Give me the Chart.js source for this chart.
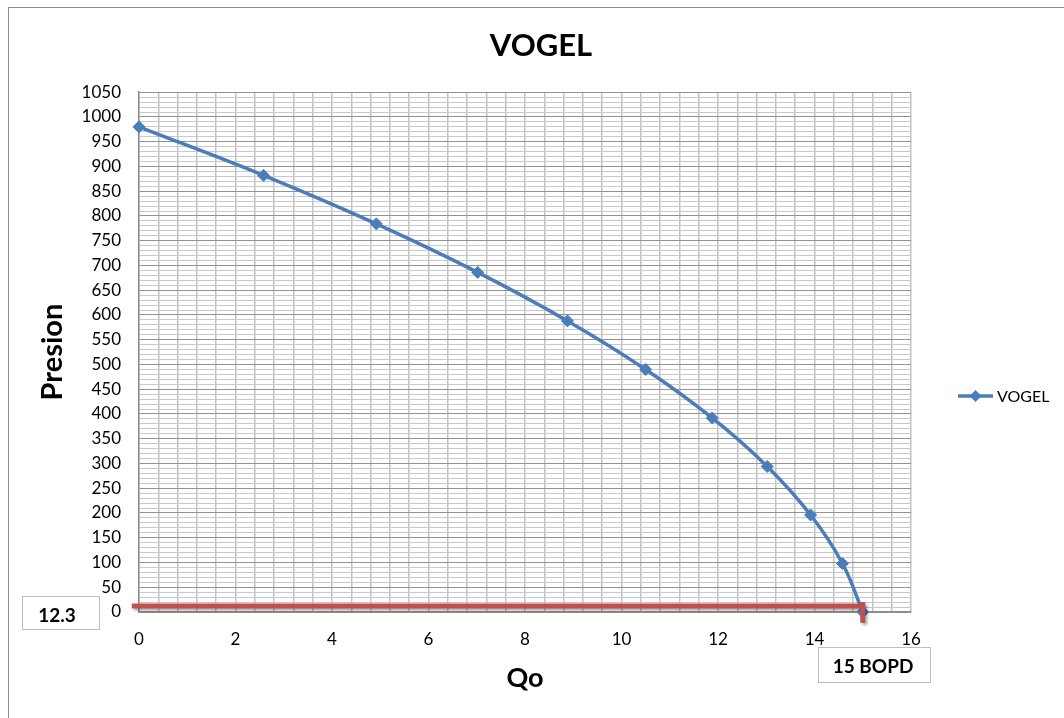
<!DOCTYPE html>
<html>
<head>
<meta charset="utf-8">
<title>VOGEL</title>
<script src="https://cdn.jsdelivr.net/npm/chart.js@4.4.1/dist/chart.umd.min.js"></script>
<style>
  html, body { margin: 0; padding: 0; background: #fff; }
  canvas { display: block; }
</style>
</head>
<body>
<canvas id="vogelChart" width="1064" height="718"></canvas>
<script>
// Curva IPR de Vogel: caudal Qo (BOPD) contra presion de fondo fluyente
const qo = [0, 2.58, 4.92, 7.02, 8.88, 10.5, 11.88, 13.02, 13.92, 14.58, 15];
const presion = [980, 882, 784, 686, 588, 490, 392, 294, 196, 98, 0];

// Lectura marcada sobre la curva
const presionLeida = 12.3;
const qoMax = 15;
const etiquetaPresion = '12.3';
const etiquetaQo = '15 BOPD';

const azul = '#4a7ebb';
const rojo = '#c0504d';
const fuente = 'Lato';

const esMultiplo = (v, m) => Math.abs(v / m - Math.round(v / m)) < 1e-6;

// Borde, flecha roja, recuadros de texto y leyenda
const extras = {
  id: 'extras',
  beforeDraw(chart) {
    const c = chart.ctx;
    c.save();
    c.fillStyle = '#fff';
    c.fillRect(0, 0, chart.width, chart.height);
    c.strokeStyle = '#8c8c8c';
    c.lineWidth = 1;
    c.strokeRect(8.5, 7.5, chart.width + 20, chart.height + 20);
    c.restore();
  },
  afterDatasetsDraw(chart) {
    const c = chart.ctx;
    const x = chart.scales.x, y = chart.scales.y;
    const py = y.getPixelForValue(presionLeida);
    const px = x.getPixelForValue(qoMax);
    c.save();
    c.strokeStyle = rojo;
    c.lineWidth = 5;
    c.lineCap = 'butt';
    c.shadowColor = 'rgba(0,0,0,0.35)';
    c.shadowBlur = 3;
    c.shadowOffsetX = 2;
    c.shadowOffsetY = 2;
    c.beginPath();
    c.moveTo(x.getPixelForValue(-0.15), py);
    c.lineTo(px, py);
    c.stroke();
    c.beginPath();
    c.moveTo(px, y.getPixelForValue(20));
    c.lineTo(px, y.getPixelForValue(-22));
    c.stroke();
    c.restore();
  },
  afterDraw(chart) {
    const c = chart.ctx;
    c.save();
    const caja = (x0, y0, w, h, txt, tx, ty) => {
      c.fillStyle = '#fff';
      c.fillRect(x0, y0, w, h);
      c.strokeStyle = '#bfbfbf';
      c.lineWidth = 1;
      c.strokeRect(x0 + 0.5, y0 + 0.5, w, h);
      c.fillStyle = '#000';
      c.font = 'bold 19px ' + fuente;
      c.textAlign = 'center';
      c.textBaseline = 'middle';
      c.fillText(txt, tx, ty);
    };
    caja(22, 596, 77, 33, etiquetaPresion, 57, 616);
    caja(818, 647, 112, 35, etiquetaQo, 873, 667);

    // leyenda
    const ly = 396;
    c.strokeStyle = azul;
    c.lineWidth = 3.5;
    c.beginPath();
    c.moveTo(958, ly);
    c.lineTo(993, ly);
    c.stroke();
    c.fillStyle = azul;
    c.beginPath();
    c.moveTo(975.5, ly - 6);
    c.lineTo(981.5, ly);
    c.lineTo(975.5, ly + 6);
    c.lineTo(969.5, ly);
    c.closePath();
    c.fill();
    c.fillStyle = '#000';
    c.font = '16px ' + fuente;
    c.textAlign = 'left';
    c.textBaseline = 'middle';
    c.fillText('VOGEL', 997, ly + 1);
    c.restore();
  }
};

new Chart(document.getElementById('vogelChart'), {
  type: 'line',
  data: {
    datasets: [{
      label: 'VOGEL',
      data: qo.map((q, i) => ({ x: q, y: presion[i] })),
      borderColor: azul,
      backgroundColor: azul,
      borderWidth: 3.5,
      tension: 0.4,
      pointStyle: 'rectRot',
      pointRadius: 6,
      pointBorderWidth: 1,
      pointBackgroundColor: azul,
      pointBorderColor: azul,
      clip: false
    }]
  },
  options: {
    responsive: false,
    devicePixelRatio: 1,
    animation: false,
    layout: { padding: { left: 18, right: 0, top: 0, bottom: 0 } },
    plugins: {
      legend: { display: false },
      tooltip: { enabled: false },
      title: {
        display: true,
        text: 'VOGEL',
        color: '#000',
        font: { family: fuente, size: 31, weight: 'bold' },
        padding: { top: 27, bottom: 28 }
      }
    },
    scales: {
      x: {
        type: 'linear',
        min: 0,
        max: 16,
        ticks: {
          stepSize: 0.4,
          autoSkip: false,
          maxRotation: 0,
          padding: 17,
          color: '#000',
          font: { family: fuente, size: 17 },
          callback: v => esMultiplo(v, 2) ? Math.round(v) : ''
        },
        grid: { color: '#c2c2c2', lineWidth: 1.5, drawTicks: false },
        border: { color: '#8c8c8c', width: 1.5 },
        title: {
          display: true,
          text: 'Qo',
          color: '#000',
          font: { family: fuente, size: 27, weight: 'bold' },
          padding: { top: 0, bottom: 24 }
        },
        afterFit(s) { s.height = 106; }
      },
      y: {
        min: 0,
        max: 1050,
        ticks: {
          stepSize: 10,
          autoSkip: false,
          padding: 18,
          color: '#000',
          font: { family: fuente, size: 17 },
          callback: v => esMultiplo(v, 50) ? v : ''
        },
        grid: {
          color: c => (c.tick && esMultiplo(c.tick.value, 50)) ? '#939393' : '#c8c8c8',
          drawTicks: false
        },
        border: { color: '#8c8c8c', width: 1.5 },
        title: {
          display: true,
          text: 'Presion',
          color: '#000',
          font: { family: fuente, size: 29, weight: 'bold' },
          padding: { top: 17, bottom: 0 }
        },
        afterFit(s) { s.width = 121; }
      },
      margenDer: {
        type: 'linear',
        position: 'right',
        display: true,
        min: 0,
        max: 1,
        grid: { display: false },
        ticks: { display: false },
        border: { display: false },
        afterFit(s) { s.width = 153; }
      }
    }
  },
  plugins: [extras]
});
</script>
</body>
</html>
